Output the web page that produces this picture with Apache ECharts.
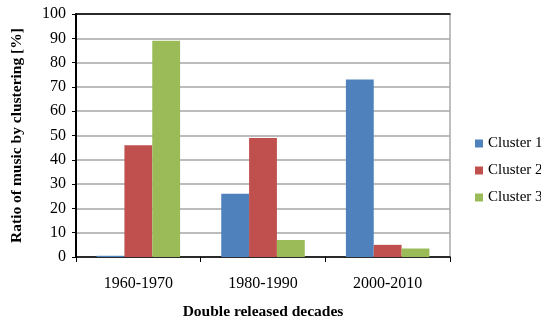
<!DOCTYPE html>
<html><head><meta charset="utf-8">
<script src="https://cdn.jsdelivr.net/npm/echarts@6/dist/echarts.min.js"></script>
<style>html,body{margin:0;padding:0;background:#fff}#c{width:541px;height:320px}</style>
</head><body><div id="c"></div>
<script>
const categories = ['1960-1970', '1980-1990', '2000-2010'];
const cluster1 = [0.5, 26, 73];
const cluster2 = [46, 49, 5];
const cluster3 = [89, 7, 3.5];
const seriesNames = ['Cluster 1', 'Cluster 2', 'Cluster 3'];
const colors = ['#4F81BD', '#C0504D', '#9BBB59'];
const font = 'Liberation Serif';

const chart = echarts.init(document.getElementById('c'));
chart.setOption({
  animation: false,
  color: colors,
  textStyle: { fontFamily: font },
  grid: { left: 76, top: 14, right: 91, bottom: 63, show: true, borderColor: '#7f7f7f', borderWidth: 1, outerBoundsMode: 'none', containLabel: false },
  legend: {
    orient: 'vertical', left: 475, top: 136, padding: 0, itemWidth: 8, itemHeight: 8, itemGap: 12,
    width: 200,
    icon: 'rect', textStyle: { fontFamily: font, fontSize: 15, color: '#000', overflow: 'none', width: 100 },
    data: seriesNames
  },
  xAxis: [{
    type: 'category', data: categories,
    axisLine: { lineStyle: { color: '#000', width: 1.5 } },
    axisTick: { show: true, length: 5, lineStyle: { color: '#000' } },
    axisLabel: { fontFamily: font, fontSize: 16, color: '#000', margin: 19 },
    name: 'Double released decades', nameLocation: 'middle', nameGap: 47,
    nameTextStyle: { fontFamily: font, fontSize: 15.5, fontWeight: 'bold', color: '#000' }
  }, {
    type: 'category', data: categories, position: 'top',
    axisLine: { show: true, lineStyle: { color: '#000', width: 1.5 } },
    axisTick: { show: false }, axisLabel: { show: false }
  }],
  yAxis: {
    type: 'value', min: 0, max: 100, interval: 10,
    axisLine: { show: true, lineStyle: { color: '#000', width: 2 } },
    axisTick: { show: true, length: 4, lineStyle: { color: '#000' } },
    axisLabel: { fontFamily: font, fontSize: 16, color: '#000', margin: 10 },
    splitLine: { lineStyle: { color: '#a6a6a6', width: 1.5 } },
    name: 'Ratio of music by clustering [%]', nameLocation: 'middle', nameGap: 51,
    nameTextStyle: { fontFamily: font, fontSize: 15.5, fontWeight: 'bold', color: '#000' }
  },
  series: [
    { name: seriesNames[0], type: 'bar', data: cluster1, barGap: '0%', barCategoryGap: '33%' },
    { name: seriesNames[1], type: 'bar', data: cluster2, barGap: '0%', barCategoryGap: '33%' },
    { name: seriesNames[2], type: 'bar', data: cluster3, barGap: '0%', barCategoryGap: '33%' }
  ]
});
</script></body></html>
